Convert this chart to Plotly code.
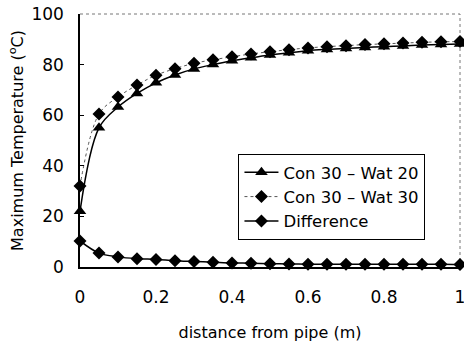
import plotly.graph_objects as go

distance = [0, 0.05, 0.1, 0.15, 0.2, 0.25, 0.3, 0.35, 0.4, 0.45, 0.5,
            0.55, 0.6, 0.65, 0.7, 0.75, 0.8, 0.85, 0.9, 0.95, 1.0]
con30_wat20 = [22, 55, 63.2, 68.6, 72.8, 75.9, 78.3, 80, 81.5, 82.7, 83.8,
               84.7, 85.5, 86, 86.4, 86.8, 87.1, 87.4, 87.7, 87.9, 88.1]
con30_wat30 = [32, 60.5, 67.2, 71.9, 75.8, 78.4, 80.5, 81.9, 83.1, 84.2, 85.1,
               85.9, 86.6, 87.1, 87.5, 87.9, 88.2, 88.5, 88.8, 89, 89.1]
difference = [10.3, 5.5, 4, 3.3, 3, 2.5, 2.2, 1.9, 1.6, 1.5, 1.3,
              1.2, 1.1, 1.1, 1.1, 1.1, 1.1, 1.1, 1.1, 1.1, 1.0]
names = ["Con 30 \u2013 Wat 20", "Con 30 \u2013 Wat 30", "Difference"]
x_ticks = [0, 0.2, 0.4, 0.6, 0.8, 1]
x_ticktext = ["0", "0.2", "0.4", "0.6", "0.8", "1"]
y_ticks = [0, 20, 40, 60, 80, 100]

FONT = "DejaVu Sans, Arial, sans-serif"

fig = go.Figure()
fig.add_trace(go.Scatter(
    x=distance, y=con30_wat20, name=names[0], mode="lines+markers",
    cliponaxis=False,
    line=dict(color="black", width=1.5, shape="spline"),
    marker=dict(symbol="triangle-up", size=11, color="black")))
fig.add_trace(go.Scatter(
    x=distance, y=con30_wat30, name=names[1], mode="lines+markers",
    cliponaxis=False,
    line=dict(color="#555555", width=1, dash="dot", shape="spline"),
    marker=dict(symbol="diamond", size=10, color="black")))
fig.add_trace(go.Scatter(
    x=distance, y=difference, name=names[2], mode="lines+markers",
    cliponaxis=False,
    line=dict(color="black", width=1.5, shape="spline"),
    marker=dict(symbol="diamond", size=10, color="black")))

# dotted top and right border
fig.add_shape(type="line", xref="paper", yref="paper", x0=0, x1=1, y0=1, y1=1,
              line=dict(color="#777777", width=1, dash="dot"), layer="below")
fig.add_shape(type="line", xref="paper", yref="paper", x0=1, x1=1, y0=0, y1=1,
              line=dict(color="#777777", width=1, dash="dot"), layer="below")

fig.update_layout(
    width=464, height=342,
    margin=dict(l=80, r=4, t=14, b=75),
    paper_bgcolor="white", plot_bgcolor="white",
    font=dict(family=FONT, size=17, color="black"),
    showlegend=True,
    legend=dict(x=0.417, y=0.447, xanchor="left", yanchor="top",
                bordercolor="black", borderwidth=1, bgcolor="white",
                font=dict(size=16.5), tracegroupgap=0, itemwidth=34),
    xaxis=dict(range=[0, 1], tickvals=x_ticks, ticktext=x_ticktext,
               showgrid=False, zeroline=False, showline=True,
               linecolor="black", linewidth=1.5, ticks="",
               ticklabelstandoff=14, ticklabeloverflow="allow",
               automargin=False,
               title=dict(text="distance from pipe (m)", standoff=31,
                          font=dict(size=16))),
    yaxis=dict(range=[0, 100], tickvals=y_ticks,
               showgrid=False, zeroline=False, showline=True,
               linecolor="black", linewidth=1.5, ticks="inside", ticklen=4,
               tickcolor="black", ticklabelstandoff=11, automargin=False,
               ticklabeloverflow="allow",
               title=dict(text="Maximum Temperature (<sup>o</sup>C)",
                          standoff=4, font=dict(size=16))),
)

fig.write_html(
    "out.html",
    config={"displayModeBar": False},
    post_script=("document.body.style.margin='0';"
                 "document.body.style.overflow='hidden';"
                 "document.documentElement.style.overflow='hidden';"),
)
